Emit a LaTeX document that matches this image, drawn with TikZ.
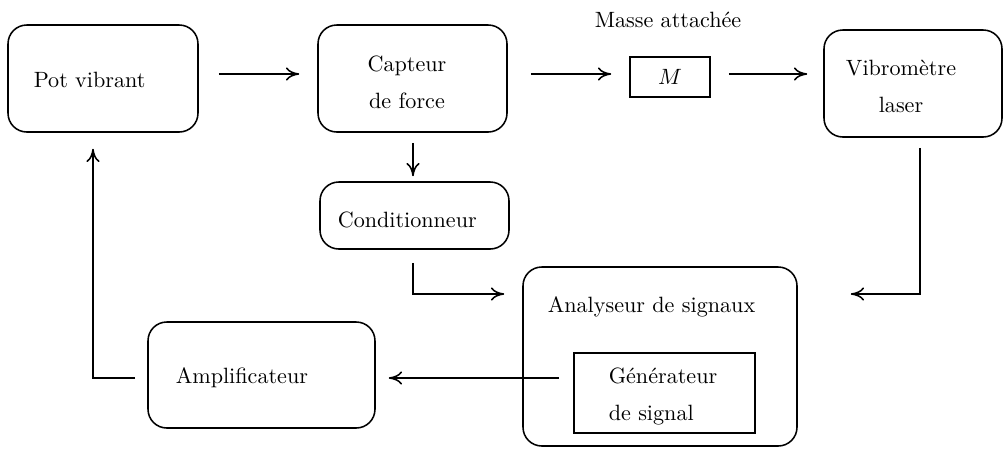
\documentclass[tikz,border=0pt]{standalone}
\usetikzlibrary{fit,arrows.meta}
\begin{document}
\begin{tikzpicture}[x=0.452pt,y=-0.452pt,
  line width=0.7pt,
  rbox/.style={draw,rounded corners=8.5pt,inner sep=0pt},
  sbox/.style={draw,inner sep=0pt},
  lbl/.style={inner sep=0pt,font=\normalsize},
  arr/.style={-{To[length=6pt,width=6pt]}}]
\useasboundingbox (0,0) rectangle (1003,448);
% boxes
\node[rbox,fit={(8,25) (198,132)}] (pot) {};
\node[rbox,fit={(318,25) (507,132)}] (capt) {};
\node[sbox,fit={(630,57) (710,97)}] (mass) {};
\node[rbox,fit={(824,30) (1002,137)}] (vib) {};
\node[rbox,fit={(320,182) (509,249)}] (cond) {};
\node[rbox,fit={(523,267) (797,446)}] (ana) {};
\node[sbox,fit={(574,353) (755,433)}] (gen) {};
\node[rbox,fit={(148,322) (375,428)}] (amp) {};
% texts
\node[lbl,anchor=west] (tpot) at (33,80) {Pot vibrant};
\node[lbl,align=center] (tcapt) at (407,82.5) {Capteur\\[4.5pt]de force};
\node[lbl] (tmass) at (670,77) {$M$};
\node[lbl] (tmasse) at (668,20) {Masse attachée};
\node[lbl,align=center] (tvib) at (901,86.5) {Vibromètre\\[4.5pt]laser};
\node[lbl,anchor=west] (tcond) at (337,220) {Conditionneur};
\node[lbl,anchor=west] (tana) at (547,307) {Analyseur de signaux};
\node[lbl,align=left,anchor=west] (tgen) at (608,396.5) {Générateur\\[4.5pt]de signal};
\node[lbl,anchor=west] (tamp) at (175,378) {Amplificateur};
% helper coordinates
\coordinate (r1) at (0,74);
\coordinate (r2) at (0,294);
\coordinate (r3) at (0,378);
\coordinate (vx) at (920,0);
\coordinate (px) at (93,0);
\coordinate (cx) at (413,0);
% connectors
\draw[arr,shorten <=9.04pt,shorten >=8.14pt] (pot.east |- r1) -- (capt.west |- r1);
\draw[arr,shorten <=10.4pt,shorten >=8.14pt] (capt.east |- r1) -- (mass.west |- r1);
\draw[arr,shorten <=8.14pt,shorten >=7.23pt] (mass.east |- r1) -- (vib.west |- r1);
\draw[arr,shorten <=4.52pt,shorten >=2.26pt] (capt.south -| cx) -- (cond.north -| cx);
\draw[arr,shorten <=5.88pt,shorten >=8.14pt] (cond.south -| cx) |- (ana.west |- r2);
\draw[arr,shorten <=4.52pt,shorten >=23.96pt] (vib.south -| vx) |- (ana.east |- r2);
\draw[arr,shorten <=6.33pt,shorten >=5.88pt] (gen.west |- r3) -- (amp.east |- r3);
\draw[arr,shorten <=5.42pt,shorten >=7.23pt] (amp.west |- r3) -| (pot.south -| px);
\end{tikzpicture}
\end{document}
